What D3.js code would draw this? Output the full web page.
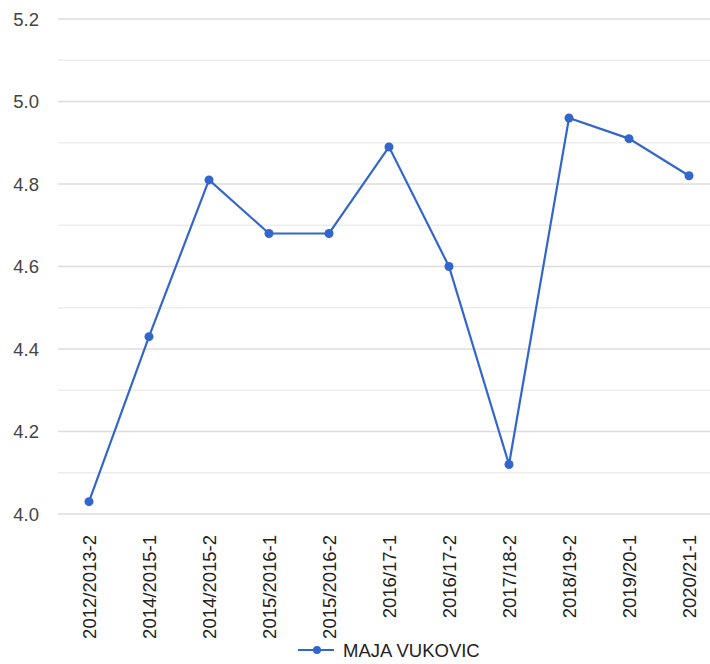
<!DOCTYPE html>
<html><head><meta charset="utf-8">
<script src="https://cdn.jsdelivr.net/npm/d3@7"></script>
<style>body{margin:0;background:#fff}svg{display:block;font-family:Arial,"Liberation Sans",sans-serif}</style>
</head><body><svg id="c" width="710" height="664"></svg>
<script>
const categories = ["2012/2013-2","2014/2015-1","2014/2015-2","2015/2016-1","2015/2016-2","2016/17-1","2016/17-2","2017/18-2","2018/19-2","2019/20-1","2020/21-1"];
const values = [4.03,4.43,4.81,4.68,4.68,4.89,4.60,4.12,4.96,4.91,4.82];
const majorTicks = [4.0,4.2,4.4,4.6,4.8,5.0,5.2];
const minorTicks = [4.1,4.3,4.5,4.7,4.9,5.1];
const seriesName = "MAJA VUKOVIC";

const svg = d3.select("#c");
const x = d3.scalePoint().domain(categories).range([89, 689]);
const y = d3.scaleLinear().domain([4.0, 5.2]).range([514, 19]);
const color = "#3366cc";
const fs = 18.5;

svg.append("g").selectAll("line").data(minorTicks).join("line")
  .attr("x1", 58).attr("x2", 710).attr("y1", d => y(d)).attr("y2", d => y(d))
  .attr("stroke", "#ededed").attr("stroke-width", 1.5);
svg.append("g").selectAll("line").data(majorTicks).join("line")
  .attr("x1", 58).attr("x2", 710).attr("y1", d => y(d)).attr("y2", d => y(d))
  .attr("stroke", "#dcdcdc").attr("stroke-width", 1.5);

svg.append("g").selectAll("text").data(majorTicks).join("text")
  .attr("x", 39).attr("y", d => y(d)).attr("dy", "0.36em")
  .attr("text-anchor", "end").attr("font-size", fs).attr("fill", "#444")
  .text(d => d.toFixed(1));

svg.append("g").selectAll("text").data(categories).join("text")
  .attr("transform", d => `translate(${x(d)},535) rotate(-90)`)
  .attr("dy", "0.36em").attr("text-anchor", "end")
  .attr("font-size", fs).attr("fill", "#222")
  .text(d => d);

const line = d3.line().x((d, i) => x(categories[i])).y(d => y(d));
svg.append("path").datum(values).attr("d", line)
  .attr("fill", "none").attr("stroke", color).attr("stroke-width", 2.2);
svg.append("g").selectAll("circle").data(values).join("circle")
  .attr("cx", (d, i) => x(categories[i])).attr("cy", d => y(d)).attr("r", 4.5)
  .attr("fill", color);

const lg = svg.append("g").attr("transform", "translate(298,650)");
lg.append("line").attr("x1", 0).attr("x2", 36).attr("stroke", color).attr("stroke-width", 2.2);
lg.append("circle").attr("cx", 19).attr("r", 4).attr("fill", color);
lg.append("text").attr("x", 45).attr("dy", "0.36em").attr("font-size", fs).attr("fill", "#222").text(seriesName);
</script></body></html>
